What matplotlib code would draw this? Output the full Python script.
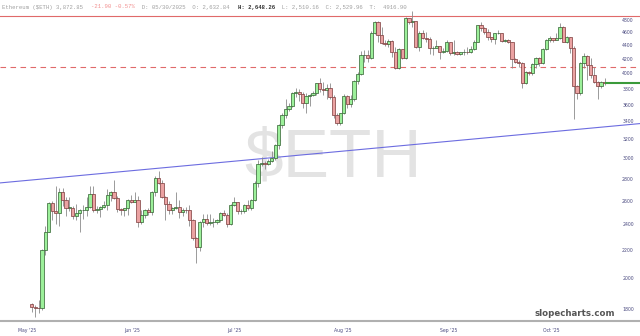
import numpy as np
import matplotlib
matplotlib.use("Agg")
import matplotlib.pyplot as plt

# Ethereum daily candles, 5 May 2025 .. 19 Oct 2025 (day 0 = 1 May 2025)
first_day = 4
first_open = 1836
closes = [1816, 1814, 1809, 2207, 2345, 2583, 2515, 2495, 2680, 2610, 2545, 2545, 2475, 2495,
          2525, 2525, 2550, 2665, 2525, 2530, 2550, 2565, 2660, 2680, 2633, 2530, 2525,
          2540, 2610, 2595, 2610, 2420, 2480, 2525, 2510, 2680, 2815, 2770, 2640, 2580, 2525,
          2545, 2550, 2510, 2525, 2520, 2440, 2295, 2230, 2420, 2445, 2415, 2420, 2425, 2440,
          2500, 2485,
          2410, 2570, 2590, 2515, 2515, 2570, 2545, 2610, 2770, 2950, 2960, 2945, 2975, 3010,
          3140, 3370, 3480, 3550, 3590, 3755, 3760, 3740, 3630, 3710, 3720, 3745, 3875, 3795,
          3790, 3810, 3700,
          3485, 3390, 3500, 3715, 3615, 3680, 3900, 4005, 4260, 4260, 4225, 4600, 4760, 4555,
          4440, 4420, 4475, 4310, 4075, 4345, 4225, 4830, 4775, 4780, 4380, 4600, 4510, 4500,
          4365, 4370, 4390,
          4310, 4325, 4450, 4295, 4305, 4275, 4305, 4310, 4305, 4350, 4460, 4715, 4665, 4605,
          4525, 4500, 4590, 4590, 4470, 4480, 4450, 4200, 4165, 4150, 3875, 4030, 4015, 4140,
          4220, 4145,
          4350, 4485, 4515, 4490, 4510, 4690, 4460, 4525, 4370, 3840, 3750, 4150, 4245, 4125,
          3985, 3890, 3835, 3895, 3873]
highs = [1840, 1830, 1860, 2210, 2390, 2590, 2605, 2740, 2720, 2715, 2640, 2640, 2555, 2575,
         2530, 2565, 2635, 2735, 2735, 2560, 2555, 2600, 2710, 2690, 2790, 2648, 2545,
         2545, 2620, 2660, 2680, 2650, 2525, 2535, 2540, 2690, 2830, 2880, 2790, 2650, 2600,
         2550, 2680, 2610, 2545, 2550, 2570, 2450, 2300, 2430, 2490, 2490, 2490, 2460, 2450,
         2510, 2525,
         2495, 2580, 2635, 2595, 2530, 2580, 2610, 2620, 2780, 2990, 3020, 2980, 3000, 3080,
         3160, 3380, 3510, 3680, 3620, 3765, 3815, 3800, 3760, 3750, 3740, 3780, 3880, 3940,
         3890, 3860, 3880,
         3720, 3510, 3510, 3740, 3730, 3720, 3920, 4020, 4320, 4330, 4330, 4620, 4790, 4780,
         4680, 4480, 4500, 4480, 4380, 4360, 4350, 4850, 4830, 4955, 4790, 4620, 4640, 4610,
         4525, 4395, 4480,
         4400, 4370, 4480, 4460, 4480, 4320, 4310, 4355, 4380, 4400, 4480, 4720, 4765, 4680,
         4650, 4530, 4600, 4640, 4600, 4505, 4495, 4455, 4225, 4190, 4160, 4040, 4040, 4150,
         4240, 4230,
         4360, 4500, 4540, 4520, 4590, 4755, 4700, 4540, 4530, 4390, 3850, 4160, 4290, 4260,
         4220, 4090, 3900, 3900, 3940]
lows = [1785, 1755, 1780, 1800, 2170, 2340, 2440, 2410, 2395, 2560, 2470, 2515, 2445, 2440,
        2345, 2450, 2475, 2545, 2505, 2500, 2465, 2540, 2520, 2600, 2620, 2510, 2480,
        2470, 2480, 2585, 2590, 2380, 2410, 2460, 2480, 2480, 2650, 2760, 2630, 2440, 2490,
        2490, 2530, 2460, 2470, 2500, 2390, 2280, 2110, 2200, 2380, 2400, 2400, 2380, 2410,
        2420, 2470,
        2385, 2400, 2560, 2490, 2490, 2500, 2520, 2520, 2600, 2730, 2930, 2900, 2940, 2970,
        2990, 3100, 3330, 3450, 3530, 3580, 3700, 3650, 3560, 3510, 3590, 3710, 3720, 3760,
        3730, 3680, 3680,
        3450, 3360, 3360, 3490, 3560, 3580, 3650, 3870, 3990, 4170, 4170, 4200, 4580, 4450,
        4430, 4400, 4380, 4240, 4060, 4060, 4200, 4205, 4730, 4690, 4360, 4320, 4500, 4460,
        4280, 4270, 4360,
        4210, 4290, 4310, 4270, 4265, 4260, 4260, 4270, 4280, 4290, 4340, 4450, 4630, 4580,
        4480, 4460, 4430, 4575, 4450, 4460, 4440, 4085, 4150, 4100, 3820, 3860, 3980, 3990,
        4080, 4110,
        4140, 4340, 4450, 4450, 4480, 4500, 4450, 4440, 4300, 3435, 3670, 3720, 4080, 3920,
        3950, 3880, 3680, 3820, 3850]
opens = [first_open] + closes[:-1]

month_days = [0, 31, 61, 92, 123, 153]
month_labels = ["May '25", "Jun '25", "Jul '25", "Aug '25", "Sep '25", "Oct '25"]
price_ticks = [1800, 2000, 2200, 2400, 2600, 2800, 3000, 3200, 3400, 3600, 3800,
               4000, 4200, 4400, 4600, 4800]

ath_level = 4868
dashed_level = 4100
trend_days = [0, 181]
trend_vals = [2782, 3380]

header = [("Ethereum ($ETH) 3,872.85  ", "#a0a0a0", "normal"),
          ("-21.90 -0.57%", "#f29090", "normal"),
          ("  D: 05/30/2025  O: 2,632.84  ", "#a0a0a0", "normal"),
          ("H: 2,648.26", "#333333", "bold"),
          ("  L: 2,510.16  C: 2,529.96  T:  4916.90", "#a0a0a0", "normal")]

W, H = 640, 336
fig = plt.figure(figsize=(W / 100, H / 100), dpi=100)
ax = fig.add_axes([0, 15 / H, 1, 321 / H])
ax.set_yscale('log')
ax.set_xlim(-5.245, 181.35)
ax.set_ylim(1734, 5136)

for s in ['top', 'left', 'right']:
    ax.spines[s].set_visible(False)
ax.spines['bottom'].set_color('#b0b0b0')
ax.spines['bottom'].set_linewidth(1.5)
ax.yaxis.set_visible(False)
ax.minorticks_off()
ax.set_xticks(month_days)
ax.set_xticklabels(month_labels, fontsize=3.3, color='#4a4a80', ha='left')
ax.tick_params(axis='x', length=0, pad=5)

# watermark
ax.text(0.52, 0.505, "$ETH", transform=ax.transAxes, fontsize=50, family='Liberation Sans',
        color='#e3e3e3', ha='center', va='center', zorder=0)

days = first_day + np.arange(len(closes))
o = np.array(opens, float)
c = np.array(closes, float)
up = c >= o
lo = np.minimum(o, c)
hi = np.maximum(o, c)
hgt = np.maximum(hi - lo, 1.0)

ax.vlines(days, lows, highs, color='#8a8a8a', lw=0.6, zorder=2)
ax.bar(days[up], hgt[up], bottom=lo[up], width=0.95, color='#9cf09a',
       edgecolor='#2f5f2f', linewidth=0.5, zorder=3)
ax.bar(days[~up], hgt[~up], bottom=lo[~up], width=0.95, color='#eba2a2',
       edgecolor='#7a3a3a', linewidth=0.5, zorder=3)

# horizontal levels and trend line
ax.axhline(ath_level, color='#e06a6a', lw=0.8, zorder=1)
ax.axhline(dashed_level, color='#e06a6a', lw=0.8, ls=(0, (5, 4)), zorder=1)
ax.plot([days[-1] + 0.5, 181.35], [closes[-1], closes[-1]], color='#3a9a3a', lw=1.5, zorder=4)
lx = np.array([-5.245, 181.35])
slope = (np.log(trend_vals[1]) - np.log(trend_vals[0])) / (trend_days[1] - trend_days[0])
ly = np.exp(np.log(trend_vals[0]) + slope * (lx - trend_days[0]))
ax.plot(lx, ly, color='#6c6ce0', lw=0.8, zorder=1)

# price labels inside the plot on the right
for p in price_ticks:
    ax.text(628 / W, p, f"{p}", transform=ax.get_yaxis_transform(), fontsize=3.3,
            color='#4a4a80', ha='center', va='center')

# header line
cw = 0.6 * 4.1 / 72  # inches per char
x0 = 2 / W
n = 0
for txt, col, wt in header:
    fig.text(x0 + n * cw * 100 / W, 1 - 7 / H, txt, fontsize=4.1, family='Liberation Mono',
             color=col, weight=wt, ha='left', va='center')
    n += len(txt)

fig.text(575 / W, 1 - 313 / H, "slopecharts.com", fontsize=6.2, weight='bold',
         color='#555555', ha='center', va='center')

fig.savefig("out.png", dpi=100)
